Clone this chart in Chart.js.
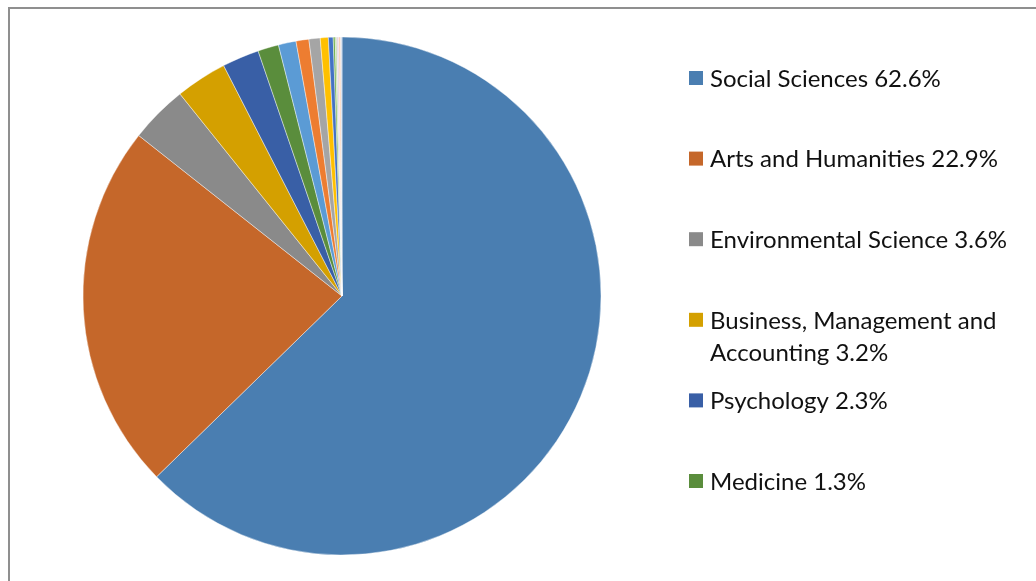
<!DOCTYPE html>
<html>
<head>
<meta charset="utf-8">
<script src="https://cdn.jsdelivr.net/npm/chart.js@4.4.1/dist/chart.umd.min.js"></script>
<style>
  html, body { margin: 0; padding: 0; background: #ffffff; }
  #wrap { width: 1036px; height: 581px; position: relative; }
</style>
</head>
<body>
<div id="wrap"><canvas id="pie" width="1036" height="581"></canvas></div>
<script>
// Subject areas and their share of documents (%)
const categories = [
  'Social Sciences', 'Arts and Humanities', 'Environmental Science',
  'Business, Management and Accounting', 'Psychology', 'Medicine',
  'Computer Science', 'Economics, Econometrics and Finance', 'Earth and Planetary Sciences',
  'Agricultural and Biological Sciences', 'Engineering', 'Decision Sciences',
  'Energy', 'Mathematics', 'Nursing', 'Multidisciplinary'
];
const shares = [62.6, 22.9, 3.6, 3.2, 2.3, 1.3, 1.1, 0.8, 0.7, 0.5, 0.3, 0.12, 0.1, 0.12, 0.12, 0.08];
const sliceColors = [
  '#4a7eb1', '#c5672a', '#8a8a8a', '#d4a000', '#395fa6', '#5a8d3c',
  '#5b9bd5', '#ed7d31', '#a5a5a5', '#ffc000', '#4472c4', '#70ad47',
  '#b7d3a4', '#e6cfe0', '#f8cbad', '#c9d7ea'
];
// Only the largest subjects are listed in the key
const legendCount = 6;

const FONT = '24px Lato, "Open Sans", sans-serif';

// Key drawn to the right of the pie, with wrapping for long names
const sideLegend = {
  id: 'sideLegend',
  afterDraw(chart) {
    const ctx = chart.ctx;
    const data = chart.data;
    const ds = data.datasets[0];
    const x0 = 689, textX = 710, top = 78, step = 80.6, lineH = 32, maxW = 318;
    ctx.save();
    ctx.font = FONT;
    ctx.textBaseline = 'middle';
    for (let i = 0; i < legendCount; i++) {
      const y = top + i * step;
      ctx.fillStyle = ds.backgroundColor[i];
      ctx.fillRect(x0, y - 7, 14, 14);
      const text = data.labels[i] + ' ' + ds.data[i].toFixed(1) + '%';
      const words = text.split(' ');
      const lines = [];
      let cur = '';
      words.forEach(w => {
        const t = cur ? cur + ' ' + w : w;
        if (ctx.measureText(t).width > maxW && cur) { lines.push(cur); cur = w; }
        else cur = t;
      });
      lines.push(cur);
      ctx.fillStyle = '#111111';
      lines.forEach((ln, k) => ctx.fillText(ln, textX, y + k * lineH + 1));
    }
    ctx.restore();
  }
};

// Thin frame along the top and left edges
const frame = {
  id: 'frame',
  beforeDraw(chart) {
    const ctx = chart.ctx;
    ctx.save();
    ctx.strokeStyle = '#8f8f8f';
    ctx.lineWidth = 2;
    ctx.beginPath();
    ctx.moveTo(9, 581);
    ctx.lineTo(9, 8);
    ctx.lineTo(1036, 8);
    ctx.stroke();
    ctx.restore();
  }
};

new Chart(document.getElementById('pie'), {
  type: 'pie',
  data: {
    labels: categories,
    datasets: [{
      data: shares,
      backgroundColor: sliceColors,
      borderColor: 'rgba(255,255,255,0.7)',
      borderWidth: 0.6,
      hoverOffset: 0,
      radius: 259
    }]
  },
  options: {
    responsive: false,
    animation: false,
    layout: { padding: { left: 83, right: 435, top: 37, bottom: 26 } },
    plugins: {
      legend: { display: false },
      tooltip: { enabled: false }
    }
  },
  plugins: [frame, sideLegend]
});
</script>
</body>
</html>
